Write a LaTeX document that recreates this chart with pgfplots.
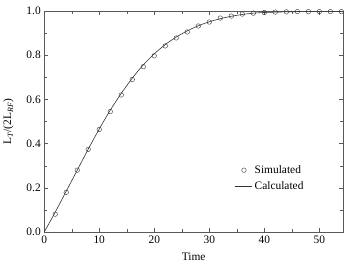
\documentclass[border=0pt]{standalone}
\usepackage{pgfplots}
\pgfplotsset{compat=1.18}
\usepackage{fontspec}
\setmainfont{Liberation Serif}
\begin{document}
\begin{tikzpicture}
\begin{axis}[
  scale only axis,
  width=300bp, height=222bp,
  xmin=0, xmax=54.3, ymin=0, ymax=1.0,
  xtick={0,10,20,30,40,50},
  minor xtick={5,15,25,35,45},
  ytick={0,0.2,0.4,0.6,0.8,1.0},
  minor ytick={0.1,0.3,0.5,0.7,0.9},
  tick align=inside,
  major tick length=4bp, minor tick length=3bp,
  yticklabel style={/pgf/number format/.cd,fixed,fixed zerofill,precision=1},
  /pgf/number format/assume math mode=true,
  tick label style={font=\fontsize{11.5}{13}\selectfont},
  label style={font=\fontsize{11.5}{13}\selectfont},
  xlabel={Time},
  ylabel={L$_{\mathit{T}}$/(2L$_{\mathit{RF}}$)},
  ylabel style={yshift=6bp},
  xlabel style={yshift=-3bp},
  axis line style={gray!70!black},
  every tick/.style={gray!70!black},
  legend style={draw=none, fill=none, at={(0.885,0.32)}, anchor=north east,
    font=\fontsize{11.5}{13}\selectfont, row sep=3bp},
  legend cell align=left,
]
\addplot[only marks, mark=o, mark size=2.3pt, black!80] coordinates {
(2,0.081) (4,0.18) (6,0.28) (8,0.374) (10,0.464) (12,0.545) (14,0.62)
(16,0.69) (18,0.748) (20,0.797) (22,0.842) (24,0.878) (26,0.905)
(28,0.932) (30,0.95) (32,0.968) (34,0.977) (36,0.986) (38,0.99)
(40,0.993) (42,0.995) (44,0.996) (46,0.997) (48,0.997) (50,0.997) (52,0.997) (54,0.997)
};
\addlegendentry{Simulated}
\addplot[smooth, black!80, line width=0.6pt] coordinates {
(0,0) (2,0.09) (4,0.185) (6,0.28) (8,0.375) (10,0.466) (12,0.551)
(14,0.627) (16,0.696) (18,0.756) (20,0.806) (22,0.848) (24,0.882)
(26,0.91) (28,0.933) (30,0.951) (32,0.965) (34,0.976) (36,0.984)
(38,0.99) (40,0.993) (44,0.996) (48,0.997) (54.3,0.997)
};
\addlegendentry{Calculated}
\end{axis}
\useasboundingbox ([xshift=-43bp,yshift=-36bp]current axis.south west) rectangle ([xshift=3bp,yshift=11bp]current axis.north east);
\end{tikzpicture}
\end{document}
